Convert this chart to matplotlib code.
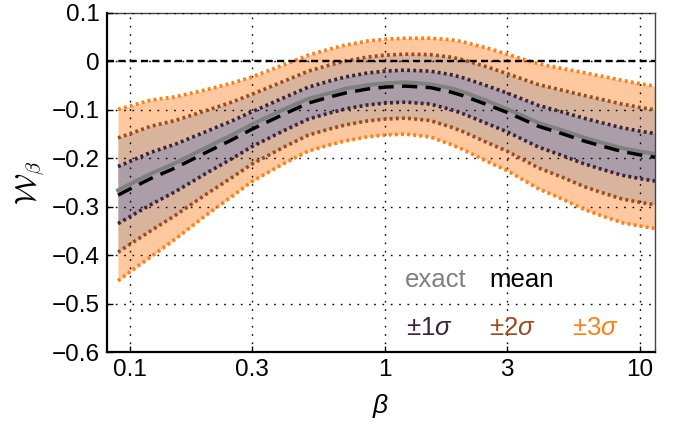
import numpy as np
import matplotlib
matplotlib.use('Agg')
import matplotlib.pyplot as plt

plt.rcParams['font.family'] = ['Liberation Sans', 'DejaVu Sans']
plt.rcParams['mathtext.fontset'] = 'custom'
plt.rcParams['mathtext.rm'] = 'Liberation Sans'
plt.rcParams['mathtext.it'] = 'Liberation Sans:italic'
plt.rcParams['mathtext.bf'] = 'Liberation Sans:bold'

# values
beta = [0.0895, 0.1, 0.12, 0.15, 0.2, 0.25, 0.3, 0.4, 0.5, 0.6, 0.7, 0.85, 1.0,
        1.2, 1.5, 1.8, 2.0, 2.5, 3.0, 4.0, 5.0, 6.0, 7.0, 8.5, 10.0, 11.45]
mean = [-0.276, -0.263, -0.242, -0.220, -0.187, -0.162, -0.140, -0.109, -0.086,
        -0.074, -0.065, -0.057, -0.053, -0.051, -0.054, -0.063, -0.070, -0.089,
        -0.105, -0.134, -0.150, -0.164, -0.174, -0.186, -0.193, -0.198]
sigma = [0.059, 0.057, 0.054, 0.049, 0.043, 0.039, 0.036, 0.034, 0.033, 0.033,
         0.033, 0.033, 0.033, 0.033, 0.034, 0.036, 0.037, 0.039, 0.040, 0.043,
         0.045, 0.047, 0.048, 0.049, 0.049, 0.049]
exact = [-0.266, -0.253, -0.232, -0.210, -0.177, -0.152, -0.130, -0.099, -0.077,
         -0.066, -0.056, -0.049, -0.045, -0.043, -0.047, -0.055, -0.062, -0.081,
         -0.098, -0.127, -0.143, -0.157, -0.167, -0.179, -0.186, -0.191]

xticks = [0.1, 0.3, 1, 3, 10]
xticklabels = ['0.1', '0.3', '1', '3', '10']
yticks = [0.1, 0, -0.1, -0.2, -0.3, -0.4, -0.5, -0.6]
yticklabels = ['0.1', '0', '\u22120.1', '\u22120.2', '\u22120.3', '\u22120.4', '\u22120.5', '\u22120.6']

line_cols = {1: '#3b2239', 2: '#9a4b1e', 3: '#ff7f14'}
fill_cols = {1: '#ab9ea8', 2: '#d8b49c', 3: '#ffc89e'}

b = np.array(beta)
m = np.array(mean)
s = np.array(sigma)

fig = plt.figure(figsize=(6.75, 4.26), dpi=100)
ax = fig.add_axes([0.1585, 0.1737, 0.8119, 0.7958])

for k in [3, 2, 1]:
    ax.fill_between(b, m - k * s, m + k * s, color=fill_cols[k], lw=0, zorder=1)
for k in [3, 2, 1]:
    for sgn in [1, -1]:
        ax.plot(b, m + sgn * k * s, color=line_cols[k], lw=2.6,
                linestyle=(0, (0.8, 0.9)), dash_capstyle='butt', zorder=3)

ax.plot(b, exact, color='#808080', lw=2.8, zorder=4)
ax.plot(b, m, color='black', lw=2.5, linestyle=(0, (4.4, 2.4)), zorder=5)
ax.axhline(0, color='black', lw=1.7, linestyle=(0, (3, 1.8)), zorder=6)

ax.set_xscale('log')
ax.set_xlim(0.081, 11.45)
ax.set_ylim(-0.6, 0.1)
ax.set_xticks(xticks)
ax.set_xticklabels(xticklabels, fontsize=17.5)
ax.xaxis.set_minor_locator(matplotlib.ticker.NullLocator())
ax.set_yticks(yticks)
ax.set_yticklabels(yticklabels, fontsize=17.5)
ax.tick_params(direction='in', length=4, width=1, pad=5)

ax.set_axisbelow(False)
ax.grid(True, color='black', lw=1.0, linestyle=(0, (1.2, 4.8)), zorder=2)

for side in ['left', 'bottom']:
    ax.spines[side].set_linewidth(1.6)
for side in ['top', 'right']:
    ax.spines[side].set_color('#444444')
    ax.spines[side].set_linewidth(1.0)

ax.set_xlabel(r'$\beta$', fontsize=19, labelpad=8)
ax.set_ylabel(r'$\mathcal{W}_\beta$', fontsize=21, labelpad=3, math_fontfamily='cm')

ax.text(0.600, 0.212, 'exact', transform=ax.transAxes, color='#808080', fontsize=18.5, ha='center', va='center')
ax.text(0.756, 0.212, 'mean', transform=ax.transAxes, color='black', fontsize=18.5, ha='center', va='center')
ax.text(0.589, 0.071, '\u00b11$\\it{\\sigma}$', transform=ax.transAxes, color=line_cols[1], fontsize=18.5, ha='center', va='center')
ax.text(0.740, 0.071, '\u00b12$\\it{\\sigma}$', transform=ax.transAxes, color=line_cols[2], fontsize=18.5, ha='center', va='center')
ax.text(0.891, 0.071, '\u00b13$\\it{\\sigma}$', transform=ax.transAxes, color=line_cols[3], fontsize=18.5, ha='center', va='center')

fig.savefig('out.png', dpi=100)
